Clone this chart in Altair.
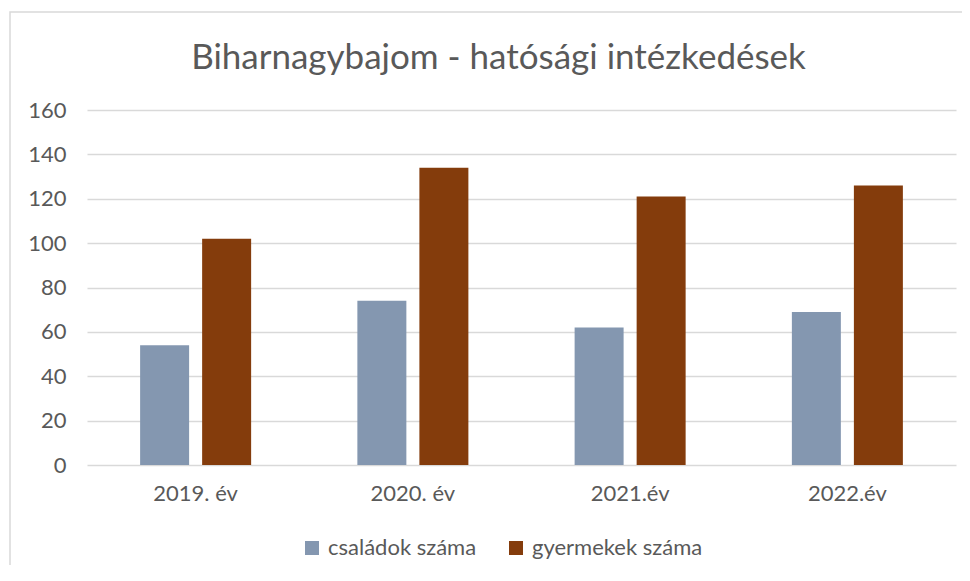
import altair as alt
import pandas as pd

years = ["2019. év", "2020. év", "2021.év", "2022.év"]
series = ["családok száma", "gyermekek száma"]
csaladok = [54, 74, 62, 69]
gyermekek = [102, 134, 121, 126]
colors = ["#8497B0", "#843C0C"]
y_ticks = [0, 20, 40, 60, 80, 100, 120, 140, 160]

rows = []
for i, y in enumerate(years):
    rows.append({"ev": y, "sorozat": series[0], "ertek": csaladok[i]})
    rows.append({"ev": y, "sorozat": series[1], "ertek": gyermekek[i]})
df = pd.DataFrame(rows)

FONT = "Lato"
GREY = "#595959"

bars = alt.Chart(df).mark_bar().encode(
    x=alt.X("ev:N", sort=years, title=None,
            scale=alt.Scale(paddingInner=0.489, paddingOuter=0.2445),
            axis=alt.Axis(labelAngle=0, labelFontSize=22, labelColor=GREY,
                          labelFont=FONT, ticks=False, domain=False,
                          labelPadding=18)),
    xOffset=alt.XOffset("sorozat:N", sort=series,
                        scale=alt.Scale(paddingInner=0.21, paddingOuter=0)),
    y=alt.Y("ertek:Q", title=None,
            scale=alt.Scale(domain=[0, 160], nice=False),
            axis=alt.Axis(values=y_ticks, labelFontSize=22, labelColor=GREY,
                          labelFont=FONT, ticks=False, domain=False,
                          labelPadding=21, gridColor="#d9d9d9",
                          gridWidth=1.5)),
    color=alt.Color("sorozat:N", sort=series,
                    scale=alt.Scale(domain=series, range=colors),
                    legend=alt.Legend(title=None, orient="none",
                                      direction="horizontal",
                                      legendX=214, legendY=427,
                                      symbolType="square", symbolSize=196,
                                      symbolStrokeWidth=0,
                                      labelFontSize=22, labelColor=GREY,
                                      labelFont=FONT, labelOffset=5,
                                      labelLimit=400,
                                      columnPadding=28)),
)

border = alt.Chart(alt.Data(values=[{}])).mark_rect(
    fill=None, stroke="#d9d9d9", strokeWidth=1.5, clip=False
).encode(
    x=alt.value(-77), x2=alt.value(960),
    y=alt.value(-98), y2=alt.value(600),
)

chart = alt.layer(border, bars).properties(
    width=869, height=355,
    autosize=alt.AutoSizeParams(type="none"),
    padding={"left": 79, "top": 102, "right": 6, "bottom": 100},
    title=alt.TitleParams("Biharnagybajom - hatósági intézkedések",
                          fontSize=35, font=FONT, fontWeight="normal",
                          color=GREY, anchor="middle", dx=-23, offset=-65),
).configure_view(stroke=None)

chart.save("out.html", embed_options={"renderer": "svg", "actions": False})
